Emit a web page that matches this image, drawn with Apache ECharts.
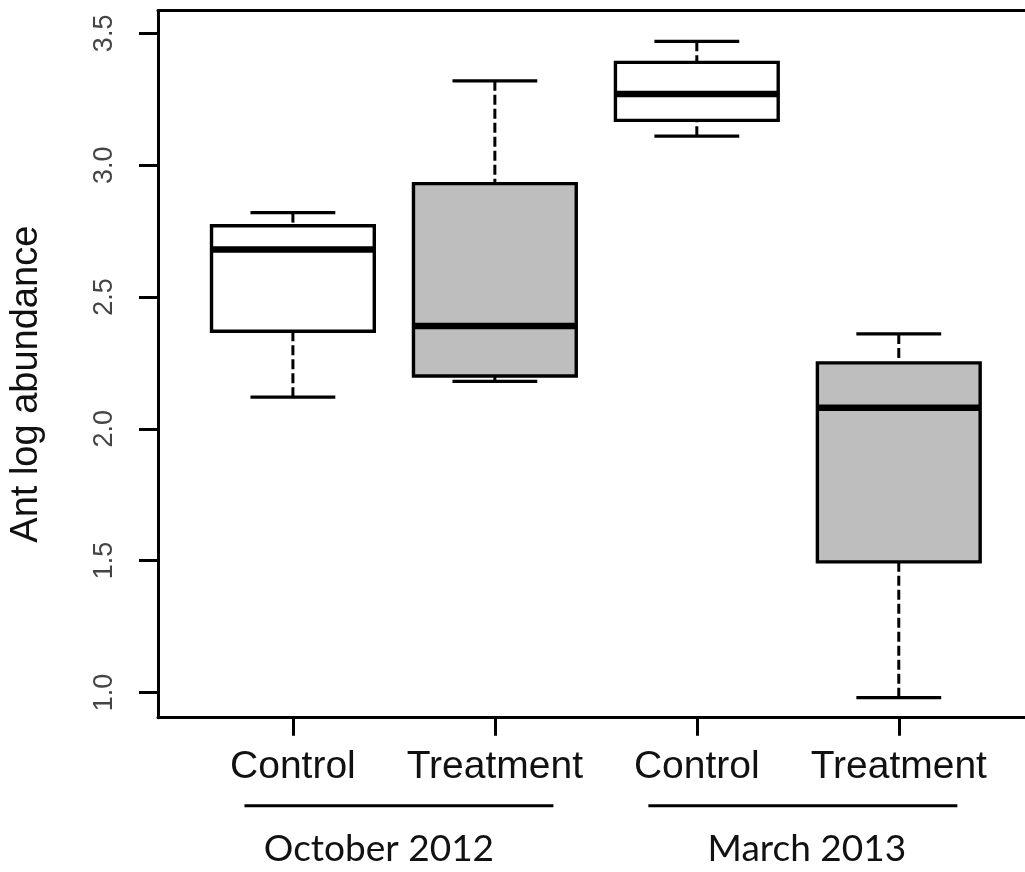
<!DOCTYPE html>
<html>
<head>
<meta charset="utf-8">
<script src="https://cdn.jsdelivr.net/npm/echarts@6/dist/echarts.min.js"></script>
<style>
  html, body { margin: 0; padding: 0; background: #fff; }
  #chart { width: 1025px; height: 872px; }
</style>
</head>
<body>
<div id="chart"></div>
<script>
// box statistics
const categories = ['Control', 'Treatment', 'Control', 'Treatment'];
const groupOf = [0, 0, 1, 1];
const groupNames = ['October 2012', 'March 2013'];
const lowerWhisker = [2.12, 2.18, 3.11, 0.98];
const q1 = [2.37, 2.20, 3.17, 1.495];
const median = [2.68, 2.39, 3.27, 2.08];
const q3 = [2.77, 2.93, 3.39, 2.25];
const upperWhisker = [2.82, 3.32, 3.47, 2.36];
const yTicks = [1.0, 1.5, 2.0, 2.5, 3.0, 3.5];

const boxData = categories.map((c, i) => [i + 1, lowerWhisker[i], q1[i], median[i], q3[i], upperWhisker[i]]);
const groupData = groupNames.map((g, gi) => {
  const idx = [];
  groupOf.forEach((v, i) => { if (v === gi) idx.push(i + 1); });
  return [Math.min(...idx), Math.max(...idx), gi];
});

const BOX_HALF = 0.403;
const CAP_HALF = 0.21;
const LABEL_SHIFT = [-20, 4]; // group label nudge (px) as placed in the original
const FONT = '"Liberation Sans", Arial, sans-serif';

function renderBox(params, api) {
  const x = api.value(0);
  const lw = api.value(1), lo = api.value(2), md = api.value(3), hi = api.value(4), uw = api.value(5);
  const i = params.dataIndex;
  const fill = categories[i] === 'Treatment' ? '#bebebe' : '#ffffff';
  const tl = api.coord([x - BOX_HALF, hi]);
  const br = api.coord([x + BOX_HALF, lo]);
  const seg = (a, b, w, dash) => ({
    type: 'line',
    shape: { x1: a[0], y1: a[1], x2: b[0], y2: b[1] },
    style: { stroke: '#000', lineWidth: w, lineDash: dash || null }
  });
  return {
    type: 'group',
    children: [
      seg(api.coord([x, lw]), api.coord([x, lo]), 3, [10, 4]),
      seg(api.coord([x, uw]), api.coord([x, hi]), 3, [10, 4]),
      seg(api.coord([x - CAP_HALF, lw]), api.coord([x + CAP_HALF, lw]), 3.2),
      seg(api.coord([x - CAP_HALF, uw]), api.coord([x + CAP_HALF, uw]), 3.2),
      {
        type: 'rect',
        shape: { x: tl[0], y: tl[1], width: br[0] - tl[0], height: br[1] - tl[1] },
        style: { fill: fill, stroke: '#000', lineWidth: 3.4 }
      },
      seg(api.coord([x - BOX_HALF, md]), api.coord([x + BOX_HALF, md]), 6.5)
    ]
  };
}

function renderGroup(params, api) {
  const cs = params.coordSys;
  const bottom = cs.y + cs.height;
  const gi = api.value(2);
  const a = api.coord([api.value(0) - 0.24, 1])[0];
  const b = api.coord([api.value(1) + 0.29, 1])[0];
  const mid = (a + b) / 2 + LABEL_SHIFT[gi];
  return {
    type: 'group',
    children: [
      {
        type: 'line',
        shape: { x1: a, y1: bottom + 88, x2: b, y2: bottom + 88 },
        style: { stroke: '#000', lineWidth: 3 }
      },
      {
        type: 'text',
        x: mid, y: bottom + 131,
        style: {
          text: groupNames[gi],
          fill: '#111',
          font: '37px Lato, "Open Sans", sans-serif',
          align: 'center',
          verticalAlign: 'middle'
        }
      }
    ]
  };
}

const chart = echarts.init(document.getElementById('chart'));
chart.setOption({
  animation: false,
  backgroundColor: '#fff',
  grid: { left: 157.7, right: 0, top: 10.7, bottom: 154.3 },
  xAxis: [
    {
      type: 'value',
      min: 0.332,
      max: 4.625,
      position: 'bottom',
      splitLine: { show: false },
      axisLine: { show: true, lineStyle: { color: '#000', width: 3 } },
      axisTick: { show: true, length: 18, customValues: [1, 2, 3, 4], lineStyle: { color: '#000', width: 3 } },
      axisLabel: {
        customValues: [1, 2, 3, 4],
        formatter: (v) => categories[Math.round(v) - 1],
        color: '#111',
        fontFamily: FONT,
        fontSize: 39,
        margin: 30
      }
    },
    {
      type: 'value',
      min: 0.332,
      max: 4.625,
      position: 'top',
      splitLine: { show: false },
      axisLine: { show: true, lineStyle: { color: '#000', width: 3 } },
      axisTick: { show: false },
      axisLabel: { show: false }
    }
  ],
  yAxis: {
    type: 'value',
    min: 0.904,
    max: 3.586,
    name: 'Ant log abundance',
    nameLocation: 'middle',
    nameRotate: 90,
    nameGap: 112,
    nameTextStyle: { color: '#111', fontFamily: FONT, fontSize: 38, padding: [0, 40, 0, 0] },
    splitLine: { show: false },
    axisLine: { show: true, lineStyle: { color: '#000', width: 3 } },
    axisTick: { show: true, length: 19, customValues: yTicks, lineStyle: { color: '#000', width: 3 } },
    axisLabel: {
      customValues: yTicks,
      formatter: (v) => v.toFixed(1),
      rotate: 90,
      color: '#444',
      fontFamily: FONT,
      fontSize: 27,
      margin: 40
    }
  },
  series: [
    {
      type: 'custom',
      name: 'boxes',
      xAxisIndex: 0,
      renderItem: renderBox,
      encode: { x: 0, y: [1, 2, 3, 4, 5] },
      data: boxData
    },
    {
      type: 'custom',
      name: 'groups',
      xAxisIndex: 0,
      clip: false,
      silent: true,
      renderItem: renderGroup,
      encode: { x: [0, 1] },
      data: groupData
    }
  ]
});
</script>
</body>
</html>
